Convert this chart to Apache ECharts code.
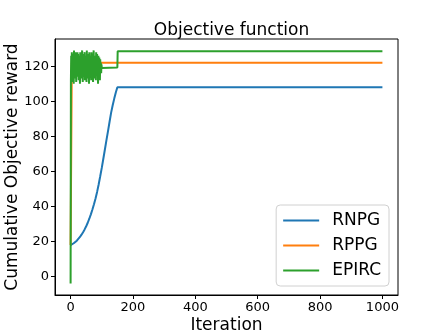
<!DOCTYPE html>
<html>
<head>
<meta charset="utf-8">
<script src="https://cdn.jsdelivr.net/npm/echarts@6/dist/echarts.min.js"></script>
<style>html,body{margin:0;padding:0;background:#fff}#c{width:443px;height:332px}</style>
</head>
<body>
<div id="c"></div>
<script>
// ---- data ----
const xTicks = [0, 200, 400, 600, 800, 1000];
const yTicks = [0, 20, 40, 60, 80, 100, 120];
const seriesNames = ['RNPG', 'RPPG', 'EPIRC'];

const rnpgIter = [0, 5, 10, 15, 20, 25, 30, 35, 40, 45, 50, 55, 60, 65, 70, 75, 80, 85, 90, 95,
                  100, 105, 110, 115, 120, 125, 130, 135, 140, 145, 150, 1000];
const rnpgVal  = [17.9, 18.4, 19, 19.7, 20.5, 21.5, 22.6, 23.9, 25.3, 26.9, 28.7, 30.7, 33, 35.5, 38.3, 41.3,
                  44.5, 48.3, 52.5, 57.2, 62, 67.2, 72.5, 77.8, 83, 88.3, 93.5, 97.7, 101.5, 105, 108, 108];

const rppgIter = [0, 4, 1000];
const rppgVal  = [18, 122, 122];

// EPIRC: start, oscillating phase (one value per iteration from iteration 1), then plateaus
const epircStartIter = 0;
const epircStartVal = -4;
const epircOsc = [112,126,118,128,111,122,127,115,124,110,129,117,121,126,113,128,119,111,125,122,
                  116,128,114,127,120,112,126,118,124,110,128,121,115,127,113,123,129,117,111,125,
                  119,127,114,122,128,112,120,126,116,124,111,129,118,113,127,121,115,125,110,128,
                  119,123,114,126,117,112,128,120,124,115,127,111,122,129,116,119,126,113,125,118,
                  112,128,121,115,127,117,123,110,126,119,114,125,120,112,124,118,122,116,121,119];
const epircPlateauIter = [101, 150, 151, 1000];
const epircPlateauVal  = [119.3, 119.3, 128.5, 128.5];

// ---- build series data ----
const zip = (xs, ys) => xs.map((x, i) => [x, ys[i]]);
const epircData = [[epircStartIter, epircStartVal]]
  .concat(epircOsc.map((v, i) => [i + 1, v]))
  .concat(zip(epircPlateauIter, epircPlateauVal));

const colors = ['#1f77b4', '#ff7f0e', '#2ca02c'];
const FONT = 'DejaVu Sans';

const chart = echarts.init(document.getElementById('c'), null, {renderer: 'canvas'});
chart.setOption({
  animation: false,
  color: colors,
  textStyle: {fontFamily: FONT},
  title: {
    text: 'Objective function',
    left: 226.5, textAlign: 'center', top: 17,
    textStyle: {fontFamily: FONT, fontSize: 17, fontWeight: 'normal', color: '#000'}
  },
  grid: {
    left: 55, right: 45, top: 39, bottom: 37,
    containLabel: false, outerBoundsMode: 'none',
    show: true, borderColor: '#000', borderWidth: 1, backgroundColor: 'transparent'
  },
  legend: {
    orient: 'vertical',
    right: 54, top: 205,
    data: seriesNames,
    icon: 'rect',
    itemWidth: 36, itemHeight: 2, itemGap: 6,
    padding: [6, 8, 6, 7],
    backgroundColor: 'rgba(255,255,255,0.8)',
    borderColor: '#d0d0d0', borderWidth: 1, borderRadius: 4,
    textStyle: {fontFamily: FONT, fontSize: 17, color: '#000', padding: [0, 0, 0, 8], lineHeight: 19}
  },
  xAxis: {
    type: 'value', min: -50, max: 1050,
    name: 'Iteration', nameLocation: 'middle', nameGap: 22, nameMoveOverlap: false,
    nameTextStyle: {fontFamily: FONT, fontSize: 17, color: '#000'},
    axisLine: {show: true, onZero: false, lineStyle: {color: '#000', width: 1}},
    axisTick: {show: true, inside: false, length: 4, lineStyle: {color: '#000'}, customValues: xTicks},
    axisLabel: {fontFamily: FONT, fontSize: 13, color: '#000', margin: 6, customValues: xTicks,
                formatter: v => String(v)},
    splitLine: {show: false}
  },
  yAxis: {
    type: 'value', min: -10.5, max: 135.5,
    name: 'Cumulative Objective reward', nameLocation: 'middle', nameGap: 34, nameRotate: 90,
    nameMoveOverlap: false,
    nameTextStyle: {fontFamily: FONT, fontSize: 17, color: '#000'},
    axisLine: {show: true, onZero: false, lineStyle: {color: '#000', width: 1}},
    axisTick: {show: true, inside: false, length: 4, lineStyle: {color: '#000'}, customValues: yTicks},
    axisLabel: {fontFamily: FONT, fontSize: 13, color: '#000', margin: 6, customValues: yTicks,
                formatter: v => String(v)},
    splitLine: {show: false}
  },
  series: [
    {name: seriesNames[0], type: 'line', data: zip(rnpgIter, rnpgVal), symbol: 'none', lineStyle: {width: 2}},
    {name: seriesNames[1], type: 'line', data: zip(rppgIter, rppgVal), symbol: 'none', lineStyle: {width: 2}},
    {name: seriesNames[2], type: 'line', data: epircData, symbol: 'none', lineStyle: {width: 2}}
  ]
});
</script>
</body>
</html>
